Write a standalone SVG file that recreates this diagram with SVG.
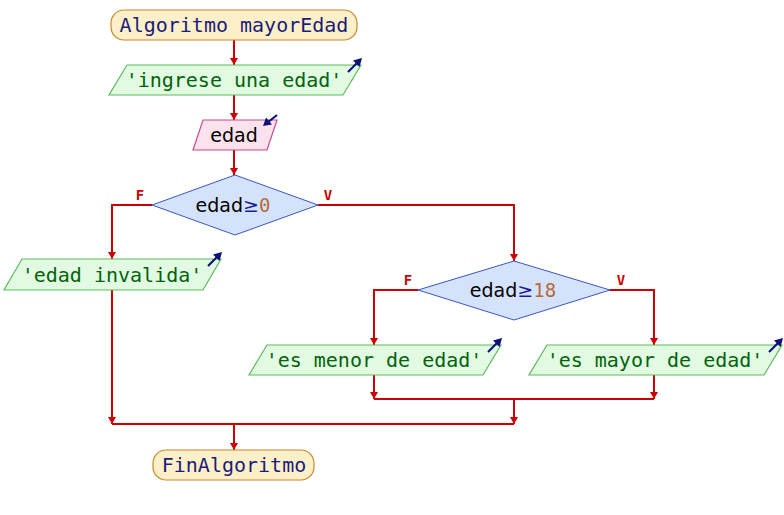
<svg xmlns="http://www.w3.org/2000/svg" width="784" height="515" viewBox="0 0 784 515">
<style>
.term{fill:#fdf0c8;stroke:#c8882c;stroke-width:1.2}
.out{fill:#e2fae2;stroke:#5cbc5c;stroke-width:1.2}
.inp{fill:#fde2ee;stroke:#c8488a;stroke-width:1.2}
.dec{fill:#d4e3fb;stroke:#3a56c4;stroke-width:1}
.kw{font-family:"DejaVu Sans Mono",monospace;font-size:20px;fill:#1c1c78;text-anchor:middle}
.str{font-family:"DejaVu Sans Mono",monospace;font-size:20px;fill:#00640a;text-anchor:middle}
.var{font-family:"DejaVu Sans",sans-serif;font-size:19px;fill:#000000;text-anchor:middle}
.op{fill:#1c1c9a}
.num{fill:#b86a38;font-family:"DejaVu Sans Mono",monospace}
.lbl{font-family:"DejaVu Sans Mono",monospace;font-size:14px;font-weight:bold;fill:#cc0000;text-anchor:middle}
.flow{fill:none;stroke:#cc0000;stroke-width:2}
.icon{stroke:#10107a;stroke-width:2.2;fill:none}
</style>
<defs>
<g id="outIcon"><line class="icon" x1="-13" y1="7" x2="-2" y2="-4"/><path d="M1,-7 L-8,-4.5 L-1.5,2 Z" fill="#10107a"/></g>
<g id="inIcon"><line class="icon" x1="0" y1="0" x2="-10" y2="8"/><path d="M-14,11 L-5,9.5 L-11,2.5 Z" fill="#10107a"/></g>
</defs>

<g id="connectors">
<path class="flow" d="M234,40 V65"/>
<path class="flow" d="M234,95 V120"/>
<path class="flow" d="M234,150 V175"/>
<path class="flow" d="M152,205 H112 V259"/>
<path class="flow" d="M318,205 H514 V261"/>
<path class="flow" d="M418,290 H374 V345"/>
<path class="flow" d="M610,290 H654 V345"/>
<path class="flow" d="M374,375 V399"/>
<path class="flow" d="M654,375 V399"/>
<path class="flow" d="M374,399 H654"/>
<path class="flow" d="M514,399 V424"/>
<path class="flow" d="M112,290 V424"/>
<path class="flow" d="M112,424 H514"/>
<path class="flow" d="M234,424 V450"/>
<g fill="#cc0000">
<path d="M230,58 H238 L234,65 Z"/>
<path d="M230,113 H238 L234,120 Z"/>
<path d="M230,168 H238 L234,175 Z"/>
<path d="M108,252 H116 L112,259 Z"/>
<path d="M510,254 H518 L514,261 Z"/>
<path d="M370,338 H378 L374,345 Z"/>
<path d="M650,338 H658 L654,345 Z"/>
<path d="M370,392 H378 L374,399 Z"/>
<path d="M650,392 H658 L654,399 Z"/>
<path d="M510,417 H518 L514,424 Z"/>
<path d="M108,417 H116 L112,424 Z"/>
<path d="M230,443 H238 L234,450 Z"/>
</g>
<text class="lbl" x="140" y="200">F</text>
<text class="lbl" x="328" y="200">V</text>
<text class="lbl" x="408" y="285">F</text>
<text class="lbl" x="621" y="285">V</text>
</g>

<g id="start">
<rect class="term" x="111" y="10" width="246" height="30" rx="13"/>
<text class="kw" x="234" y="32">Algoritmo mayorEdad</text>
</g>

<g id="out1">
<polygon class="out" points="127,65 361,65 343,95 109,95"/>
<text class="str" x="234" y="87">'ingrese una edad'</text>
<use href="#outIcon" x="361" y="65"/>
</g>

<g id="in1">
<polygon class="inp" points="203,120 277,120 267,150 193,150"/>
<text class="var" x="234" y="142">edad</text>
<use href="#inIcon" x="277" y="115"/>
</g>

<g id="dec1">
<polygon class="dec" points="235,175 318,205 235,235 152,205"/>
<text class="var" x="233" y="212">edad<tspan class="op">≥</tspan><tspan class="num">0</tspan></text>
</g>

<g id="out2">
<polygon class="out" points="22,259 221,259 203,290 4,290"/>
<text class="str" x="112" y="282">'edad invalida'</text>
<use href="#outIcon" x="221" y="259"/>
</g>

<g id="dec2">
<polygon class="dec" points="514,261 610,290 514,320 418,290"/>
<text class="var" x="513" y="297">edad<tspan class="op">≥</tspan><tspan class="num">18</tspan></text>
</g>

<g id="out3">
<polygon class="out" points="267,345 501,345 483,375 249,375"/>
<text class="str" x="374" y="367">'es menor de edad'</text>
<use href="#outIcon" x="501" y="345"/>
</g>

<g id="out4">
<polygon class="out" points="547,345 782,345 764,375 529,375"/>
<text class="str" x="655" y="367">'es mayor de edad'</text>
<use href="#outIcon" x="782" y="345"/>
</g>

<g id="end">
<rect class="term" x="153" y="450" width="161" height="30" rx="13"/>
<text class="kw" x="234" y="472">FinAlgoritmo</text>
</g>
</svg>
